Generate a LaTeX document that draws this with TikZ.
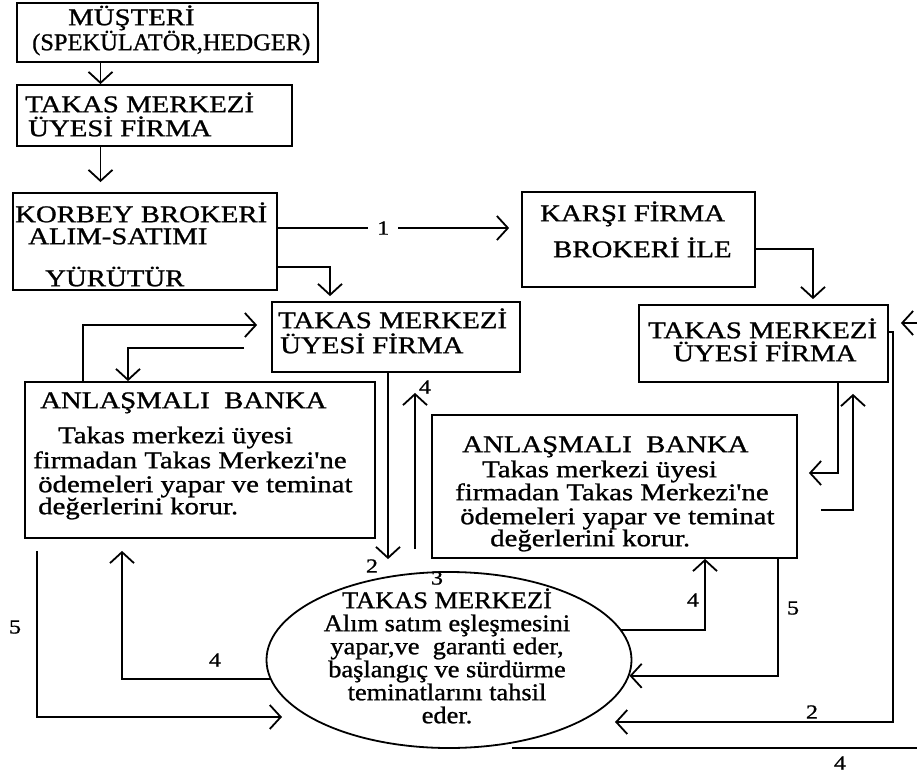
\documentclass[tikz,border=0pt]{standalone}
\usepackage{fontspec}
\usepackage{graphicx}
\usetikzlibrary{arrows.meta,shapes.geometric}
\newfontfamily\bkf{Liberation Serif}[FakeStretch=1.2,FakeBold=1]
\newfontfamily\elf{Liberation Serif}[FakeStretch=1.1,FakeBold=1]
\newcommand\bxfont{\bkf\fontsize{24}{24}\selectfont\lineskiplimit=-100pt\relax}
\newcommand\elfont{\elf\fontsize{24}{23}\selectfont\lineskiplimit=-100pt\relax}
\newcommand\lbfont{\bkf\fontsize{20}{20}\selectfont}
\newcommand\tp{\rule{0pt}{22pt}}
\tikzset{
  box/.style={draw, line width=1.8pt, rectangle, inner sep=0pt},
  txt/.style={anchor=north west, inner sep=0pt, align=left, font=\bxfont},
  ln/.style={line width=1.8pt},
  arr/.style={line width=1.8pt, -{Straight Barb[length=11pt,width=24pt]}},
  lab/.style={inner sep=1pt, font=\lbfont}
}
\begin{document}
\begin{tikzpicture}[x=1pt,y=-1pt]
\useasboundingbox (0,0) rectangle (917,778);
% boxes
\node[box, minimum width=301pt, minimum height=59pt] (b1) at (167.5,32.5) {};
\node[box, minimum width=275pt, minimum height=61pt] (b2) at (154.5,115.5) {};
\node[box, minimum width=264pt, minimum height=97pt] (b3) at (145,241.5) {};
\node[box, minimum width=248pt, minimum height=70pt] (b4) at (396,337) {};
\node[box, minimum width=233pt, minimum height=95pt] (b5) at (638.5,239.5) {};
\node[box, minimum width=249pt, minimum height=77pt] (b6) at (763.5,343.5) {};
\node[box, minimum width=350pt, minimum height=156pt] (k1) at (200,460) {};
\node[box, minimum width=365pt, minimum height=143pt] (k2) at (614.5,486.5) {};
\node[draw, ellipse, line width=1.8pt, minimum width=365pt, minimum height=176pt, inner sep=0pt] (ell) at (449,660) {};
% texts
\node[txt] (t1) at (32,3) {\tp\hspace*{36pt}MÜŞTERİ\\[1pt]\scalebox{0.85}[1]{(SPEKÜLATÖR,HEDGER)}};
\node[txt] (t2) at (25,90) {\tp TAKAS MERKEZİ\\\hspace*{3pt}ÜYESİ FİRMA};
\node[txt] (t3) at (15,200) {\tp KORBEY BROKERİ\\[-2pt]\hspace*{13pt}ALIM-SATIMI\\[18pt]\hspace*{30pt}YÜRÜTÜR};
\node[txt] (t4) at (278,306) {\tp TAKAS MERKEZİ\\[1pt]\hspace*{2pt}ÜYESİ FİRMA};
\node[txt] (t5) at (540,199) {\tp KARŞI FİRMA\\[12pt]\hspace*{13pt}BROKERİ İLE};
\node[txt] (t6) at (648,316) {\tp TAKAS MERKEZİ\\[-1pt]\hspace*{25pt}ÜYESİ FİRMA};
\node[txt] (k1t) at (33,386) {\tp\hspace*{7pt}ANLAŞMALI\ \ BANKA\\[11pt]\hspace*{25pt}Takas merkezi üyesi\\[1pt]firmadan Takas Merkezi'ne\\\hspace*{5pt}ödemeleri yapar ve teminat\\[-2pt]\hspace*{5pt}değerlerini korur.};
\node[txt] (k2t) at (455,430) {\tp\hspace*{7pt}ANLAŞMALI\ \ BANKA\\[1pt]\hspace*{27pt}Takas merkezi üyesi\\[-1pt]firmadan Takas Merkezi'ne\\\hspace*{5pt}ödemeleri yapar ve teminat\\[-2pt]\hspace*{35pt}değerlerini korur.};
\node[anchor=north, inner sep=0pt, align=center, font=\elfont] (et) at (447,586) {\tp TAKAS MERKEZİ\\Alım satım eşleşmesini\\yapar,ve\ \ garanti eder,\\başlangıç ve sürdürme\\teminatlarını tahsil\\eder.};
% free coordinates
\coordinate (r2) at (893,722);
\coordinate (e2) at (615,722);
\coordinate (redge) at (917,323);
\coordinate (e5) at (282,717);
\coordinate (bl) at (512,748);
\coordinate (br) at (917,748);
% connectors
\draw[arr] ([xshift=-67pt]b1.south) -- ([xshift=-67pt]b1.south |- b2.north);
\draw[arr, shorten >=10pt] ([xshift=-54pt]b2.south) -- ([xshift=-54pt]b2.south |- b3.north);
\draw[arr, shorten >=12pt] ([yshift=13.5pt]b3.east) -- ([yshift=13.5pt]b3.east -| b5.west)
   node[lab, pos=0.433, fill=white, inner xsep=9pt] (l1) {1};
\draw[arr, shorten >=5pt] ([yshift=-25.5pt]b3.east) -| ([xshift=-66pt]b4.north);
\draw[arr, shorten >=5pt] ([yshift=-9.5pt]b5.east) -| ([xshift=49.5pt]b6.north);
\draw[arr, shorten >=14pt] ([xshift=-117pt]k1.north) |- ([yshift=12pt]b4.west);
\draw[arr, shorten <=27pt] ([yshift=-11pt]b4.west) -| ([xshift=-72pt]k1.north);
\draw[arr, shorten >=12pt] ([xshift=-8pt]b4.south) -- ([xshift=-8pt]b4.south |- ell.north);
\draw[arr, shorten <=22pt, shorten >=20pt] ([xshift=19pt]b4.south |- ell.north) -- ([xshift=19pt]b4.south);
\draw[arr] (ell.10) -| ([xshift=90.5pt]k2.south);
\draw[arr] ([xshift=163.5pt]k2.south) |- (ell.-5);
\draw[arr, shorten >=11pt] ([xshift=74.5pt]b6.south) |- ([yshift=13.5pt]k2.east);
\draw[arr, shorten <=23pt, shorten >=11pt] ([yshift=-23.5pt]k2.east) -| ([xshift=89.5pt]b6.south);
\draw[arr] ([yshift=11.5pt]b6.east) -| (r2) -- (e2);
\draw[arr, shorten >=12pt] (redge) -- (redge -| b6.east);
\draw[arr, shorten <=12pt] ([xshift=-163pt]k1.south) |- (e5);
\draw[arr, shorten >=12pt] (ell.186) -| ([xshift=-78pt]k1.south);
\draw[ln] (bl) -- (br);
% labels
\node[lab] (l2a) at (372,566) {2};
\node[lab] (l4a) at (425,387) {4};
\node[lab] (l3) at (437,578) {3};
\node[lab] (l4b) at (693,600) {4};
\node[lab] (l5b) at (793,608) {5};
\node[lab] (l2b) at (812,712) {2};
\node[lab] (l5a) at (15,627) {5};
\node[lab] (l4c) at (215,660) {4};
\node[lab] (l4d) at (840,763) {4};
\end{tikzpicture}
\end{document}
